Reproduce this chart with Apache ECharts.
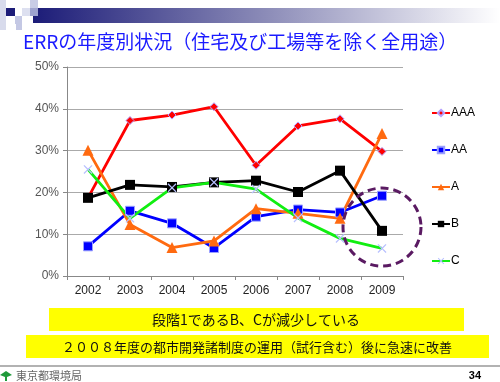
<!DOCTYPE html>
<html><head><meta charset="utf-8">
<script src="https://cdn.jsdelivr.net/npm/echarts@6/dist/echarts.min.js"></script>
<style>html,body{margin:0;padding:0;background:#fff}#c{width:500px;height:382px}</style>
</head><body><div id="c"></div>
<script>
const titleText = 'ERRの年度別状況（住宅及び工場等を除く全用途）';
const years = ['2002','2003','2004','2005','2006','2007','2008','2009'];
const seriesNames = ['AAA','AA','A','B','C'];
const AAA = [18.7, 37.2, 38.5, 40.5, 26.5, 35.9, 37.6, 29.8];
const AA  = [7.1, 15.6, 12.6, 6.7, 14.2, 15.9, 15.2, 19.2];
const A   = [30.1, 12.3, 6.8, 8.4, 16.1, 15.0, 13.8, 34.1];
const B   = [18.7, 21.8, 21.3, 22.4, 22.8, 20.1, 25.2, 10.8];
const C   = [25.5, 13.8, 21.1, 22.4, 20.8, 13.9, 9.0, 6.6];
const yTicks = [0, 10, 20, 30, 40, 50];
const note1 = '段階1であるB、Cが減少している';
const note2 = '２００８年度の都市開発諸制度の運用（試行含む）後に急速に改善';
const footerOrg = '東京都環境局';
const pageNo = '34';
const circleAt = ['2009', 11.7];

const chart = echarts.init(document.getElementById('c'), null, {renderer:'canvas'});
const LAT = '"Liberation Sans", Arial, sans-serif';
const JP = '"Noto Sans CJK JP", sans-serif';
const xPath = 'path://M1,0L5,4L9,0L10,1L6,5L10,9L9,10L5,6L1,10L0,9L4,5L0,1Z';

function mk(name, data, color, symbol, size, border, markColor) {
  return {
    name, type:'line', data, symbol, symbolSize:size,
    lineStyle:{color, width:2.8},
    itemStyle:{color: markColor || color, borderColor:border || color, borderWidth: border?1:0},
    emphasis:{disabled:true}, z: 3
  };
}
const series = [
  mk('AAA', AAA, '#ff0000', 'diamond', 8, '#b4a0ff'),
  mk('AA', AA, '#0000ff', 'rect', 9, '#9aa0ff'),
  mk('A', A, '#ff6a10', 'triangle', 11, null),
  mk('B', B, '#000000', 'rect', 10, null),
  mk('C', C, '#11ee11', xPath, 9, null, '#b8c0ff')
];

const deco = [
  {type:'rect', shape:{x:33,y:8,width:467,height:15}, style:{fill:new echarts.graphic.LinearGradient(0,0,1,0,[{offset:0,color:'#1c1c78'},{offset:0.5,color:'#8c8cb8'},{offset:1,color:'#ffffff'}])}, silent:true},
  {type:'rect', shape:{x:0,y:0,width:6,height:30}, style:{fill:'#d8dbec'}},
  {type:'rect', shape:{x:6,y:8,width:9,height:8}, style:{fill:'#1c1c78'}},
  {type:'rect', shape:{x:15,y:16,width:7,height:8}, style:{fill:'#c4c8e4'}},
  {type:'rect', shape:{x:22,y:8,width:8,height:8}, style:{fill:'#dde0f0'}},
  {type:'rect', shape:{x:30,y:0,width:8,height:8}, style:{fill:'#c8cce6'}},
  {type:'rect', shape:{x:30,y:8,width:8,height:8}, style:{fill:'#9ea3cf'}},
  {type:'rect', shape:{x:16,y:22,width:6,height:8}, style:{fill:'#c4c8e4'}},
  {type:'text', x:23, y:42, style:{text:titleText, font:'19px '+JP, fill:'#1a1aff', verticalAlign:'middle'}},
  {type:'rect', shape:{x:49,y:308,width:415,height:23}, style:{fill:'#ffff00'}},
  {type:'text', x:256, y:320, style:{text:note1, font:'14px '+JP, fill:'#111', align:'center', verticalAlign:'middle'}},
  {type:'rect', shape:{x:26,y:335,width:463,height:23}, style:{fill:'#ffff00'}},
  {type:'text', x:257, y:347, style:{text:note2, font:'13px '+JP, fill:'#111', align:'center', verticalAlign:'middle'}},
  {type:'line', shape:{x1:0,y1:366,x2:500,y2:366}, style:{stroke:'#999', lineWidth:1.5}},
  {type:'polygon', shape:{points:[[0,375],[6,371],[12,375],[7,377],[7,381],[5,381],[5,377]]}, style:{fill:'#1f9a3a'}},
  {type:'text', x:16, y:376, style:{text:footerOrg, font:'11px '+JP, fill:'#666', verticalAlign:'middle'}},
  {type:'text', x:481, y:376, style:{text:pageNo, font:'bold 11px '+LAT, fill:'#000', align:'right', verticalAlign:'middle'}}
];

chart.setOption({
  animation:false,
  backgroundColor:'#fff',
  grid:{left:67, right:97, top:67, bottom:106},
  legend:{
    orient:'vertical', left:426, top:102, itemWidth:18, itemHeight:8, itemGap:25,
    textStyle:{fontFamily:LAT, fontSize:12, color:'#000', padding:[0,0,0,-4]},
    data:seriesNames
  },
  xAxis:{
    type:'category', data:years, boundaryGap:true,
    axisLine:{lineStyle:{color:'#888'}},
    axisTick:{show:true, length:4, lineStyle:{color:'#888'}},
    axisLabel:{fontFamily:LAT, fontSize:12, color:'#222', margin:9}
  },
  yAxis:{
    type:'value', min:0, max:50, interval:10,
    axisLine:{show:true, lineStyle:{color:'#888'}},
    axisTick:{show:true, length:4, lineStyle:{color:'#888'}},
    splitLine:{lineStyle:{color:'#aaa', width:1}},
    axisLabel:{fontFamily:LAT, fontSize:12, color:'#555', margin:8, formatter: v => v + '%'}
  },
  series,
  graphic: deco
});

const c = chart.convertToPixel({gridIndex:0}, circleAt);
chart.setOption({graphic: deco.concat([{type:'circle', shape:{cx:c[0], cy:c[1], r:39}, style:{fill:null, stroke:'#5a1a62', lineWidth:3, lineDash:[8,5]}, z:10}])}, {replaceMerge:['graphic']});
</script></body></html>
